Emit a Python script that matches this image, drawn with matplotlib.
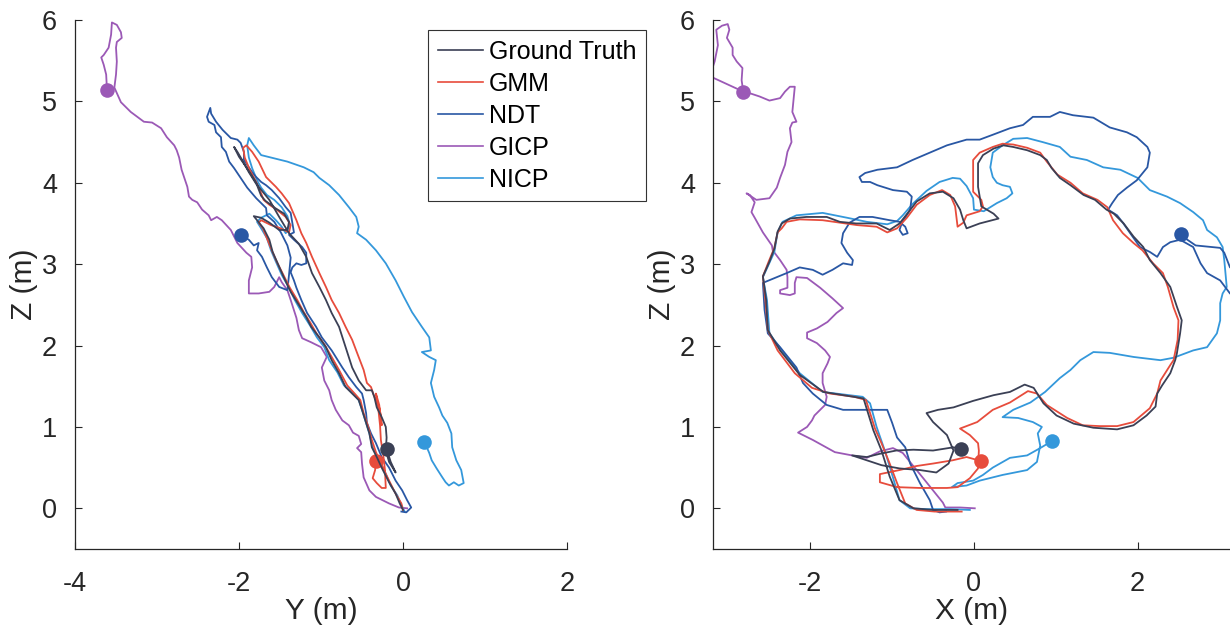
import matplotlib.pyplot as plt
import numpy as np

plt.rcParams['font.family'] = ['Liberation Sans', 'DejaVu Sans']
plt.rcParams['axes.unicode_minus'] = False

labels = ['Ground Truth', 'GMM', 'NDT', 'GICP', 'NICP']
colors = ['#3b4055', '#e74c3c', '#2957a4', '#9b59b6', '#3498db']

# ---- right panel: X vs Z ----
gt_x = [-0.20, -0.25, -0.50, -0.74, -0.91, -1.03, -1.13, -1.23, -1.35, -1.84, -2.13, -2.37, -2.52, -2.54, -2.58,
        -2.50, -2.44, -2.40, -2.35, -2.25, -2.05, -1.80, -1.64, -1.44, -1.19, -1.03, -0.91, -0.80, -0.70, -0.54,
        -0.38, -0.25, -0.17, -0.13, -0.09, 0.07, 0.30, 0.24, 0.09, 0.05, 0.05, 0.11, 0.24, 0.36, 0.48, 0.65, 0.81,
        0.89, 0.95, 1.05, 1.18, 1.34, 1.48, 1.62, 1.71, 1.83, 1.95, 2.07, 2.15, 2.28, 2.40, 2.48, 2.54, 2.52, 2.48,
        2.46, 2.40, 2.30, 2.24, 2.22, 2.11, 1.95, 1.75, 1.46, 1.22, 1.01, 0.85, 0.73, 0.62, 0.44, 0.24, -0.01,
        -0.25, -0.44, -0.58, -0.50, -0.33, -0.25, -0.31, -0.46, -0.66, -0.91, -1.13, -1.31, -1.49, -1.31, -1.15,
        -0.95, -0.74, -0.50, -0.25, -0.16]
gt_xz = [-0.02, -0.02, -0.02, 0.00, 0.10, 0.39, 0.71, 0.96, 1.35, 1.43, 1.64, 1.94, 2.19, 2.56, 2.85, 3.03, 3.19,
         3.40, 3.50, 3.56, 3.58, 3.58, 3.52, 3.50, 3.50, 3.42, 3.50, 3.64, 3.77, 3.87, 3.89, 3.81, 3.67, 3.54, 3.44,
         3.50, 3.56, 3.62, 3.71, 3.95, 4.24, 4.34, 4.42, 4.46, 4.44, 4.40, 4.34, 4.28, 4.18, 4.06, 3.97, 3.85, 3.79,
         3.67, 3.62, 3.50, 3.34, 3.21, 3.05, 2.89, 2.72, 2.48, 2.31, 2.15, 1.90, 1.82, 1.66, 1.51, 1.41, 1.25, 1.14,
         1.02, 0.97, 0.99, 1.04, 1.14, 1.29, 1.48, 1.52, 1.43, 1.39, 1.32, 1.24, 1.21, 1.17, 1.06, 0.90, 0.71, 0.55,
         0.44, 0.47, 0.49, 0.53, 0.59, 0.65, 0.63, 0.67, 0.71, 0.72, 0.71, 0.75, 0.73]

gmm_x = [-0.15, -0.48, -0.70, -0.84, -0.94, -1.03, -1.13, -1.21, -1.32, -1.46, -1.76, -1.98, -2.19, -2.40, -2.52,
         -2.55, -2.58, -2.51, -2.44, -2.40, -2.35, -2.29, -2.13, -1.85, -1.64, -1.43, -1.19, -1.06, -0.94, -0.82,
         -0.70, -0.54, -0.39, -0.29, -0.23, -0.20, -0.13, -0.09, 0.07, 0.11, 0.09, -0.01, -0.01, 0.07, 0.23, 0.35,
         0.48, 0.65, 0.81, 0.89, 1.02, 1.18, 1.33, 1.51, 1.63, 1.70, 1.82, 1.95, 2.06, 2.19, 2.31, 2.37, 2.44, 2.50,
         2.49, 2.44, 2.40, 2.28, 2.24, 2.15, 1.95, 1.75, 1.54, 1.33, 1.14, 0.89, 0.77, 0.66, 0.44, 0.23, 0.04,
         -0.17, -0.05, 0.05, 0.06, 0.05, -0.05, -0.20, -0.33, -0.66, -0.94, -1.15, -1.15, -0.91, -0.70, -0.50,
         -0.26, -0.09, 0.09]
gmm_xz = [-0.04, -0.04, -0.02, 0.06, 0.31, 0.55, 0.80, 0.98, 1.33, 1.37, 1.41, 1.48, 1.66, 1.94, 2.19, 2.56, 2.85,
          3.03, 3.20, 3.39, 3.44, 3.52, 3.55, 3.54, 3.51, 3.48, 3.46, 3.39, 3.44, 3.57, 3.73, 3.85, 3.91, 3.85, 3.71,
          3.46, 3.51, 3.60, 3.65, 3.71, 3.79, 3.89, 4.28, 4.37, 4.44, 4.48, 4.47, 4.43, 4.37, 4.26, 4.10, 4.00, 3.87,
          3.79, 3.70, 3.54, 3.38, 3.26, 3.17, 3.01, 2.89, 2.72, 2.47, 2.31, 2.07, 1.82, 1.76, 1.57, 1.41, 1.23, 1.06,
          1.01, 1.01, 1.02, 1.11, 1.27, 1.41, 1.44, 1.30, 1.21, 1.06, 0.98, 0.90, 0.80, 0.71, 0.49, 0.37, 0.26, 0.25,
          0.25, 0.26, 0.32, 0.42, 0.47, 0.52, 0.55, 0.59, 0.63, 0.58]

ndt_x = [-0.34, -0.42, -0.50, -0.54, -0.66, -0.78, -0.84, -0.94, -1.00, -1.06, -1.31, -1.60, -1.80, -1.97, -2.09,
         -2.17, -2.37, -2.52, -2.56, -2.58, -2.29, -2.13, -1.97, -1.85, -1.73, -1.60, -1.49, -1.48, -1.55, -1.62,
         -1.60, -1.52, -1.40, -1.24, -1.03, -0.91, -0.84, -0.81, -0.87, -0.91, -0.88, -0.78, -0.76, -0.82, -0.99,
         -1.18, -1.27, -1.37, -1.40, -1.33, -1.18, -0.94, -0.75, -0.54, -0.33, -0.09, 0.07, 0.23, 0.44, 0.60, 0.72,
         0.93, 1.05, 1.21, 1.46, 1.66, 1.87, 1.99, 2.12, 2.15, 2.12, 1.99, 1.87, 1.76, 1.69, 1.64, 1.75, 1.82, 1.91,
         2.03, 2.15, 2.24, 2.31, 2.40, 2.52, 2.68, 2.77, 2.85, 3.01, 3.13, 3.26, 3.28, 3.13, 3.06, 3.01, 2.71, 2.58,
         2.53]
ndt_xz = [-0.04, -0.05, -0.02, 0.10, 0.31, 0.55, 0.75, 0.87, 1.05, 1.21, 1.21, 1.21, 1.27, 1.41, 1.54, 1.73, 1.98,
          2.15, 2.44, 2.77, 2.89, 2.96, 2.93, 2.87, 2.93, 3.01, 2.99, 3.05, 3.14, 3.26, 3.38, 3.51, 3.58, 3.58, 3.54,
          3.52, 3.46, 3.38, 3.36, 3.42, 3.51, 3.67, 3.83, 3.89, 3.91, 3.97, 4.01, 4.01, 4.07, 4.12, 4.16, 4.19, 4.28,
          4.37, 4.46, 4.53, 4.53, 4.59, 4.67, 4.71, 4.81, 4.81, 4.87, 4.83, 4.80, 4.68, 4.62, 4.56, 4.44, 4.37, 4.19,
          4.03, 3.94, 3.85, 3.75, 3.67, 3.60, 3.51, 3.38, 3.21, 3.15, 3.09, 3.21, 3.27, 3.30, 3.21, 3.01, 2.89, 2.80,
          2.64, 2.56, 2.93, 2.96, 3.14, 3.20, 3.23, 3.32, 3.37]

gicp_x = [0.01, -0.17, -0.35, -0.38, -0.50, -0.62, -0.75, -0.87, -0.99, -1.15, -1.31, -1.49, -1.70, -1.97, -2.15,
          -2.04, -1.98, -1.95, -1.82, -1.80, -1.85, -1.85, -1.79, -1.76, -1.82, -1.92, -2.04, -2.04, -1.92, -1.79,
          -1.68, -1.60, -1.73, -1.88, -2.04, -2.17, -2.19, -2.19, -2.25, -2.37, -2.37, -2.28, -2.28, -2.29, -2.37,
          -2.46, -2.47, -2.58, -2.68, -2.72, -2.68, -2.74, -2.78, -2.66, -2.50, -2.41, -2.37, -2.31, -2.28, -2.23,
          -2.25, -2.22, -2.17, -2.22, -2.19, -2.25, -2.31, -2.37, -2.50, -2.62, -2.74, -2.82, -2.84, -2.83, -2.90,
          -2.95, -2.95, -3.02, -2.99, -3.01, -3.08, -3.15, -3.13, -3.17, -3.23, -2.82]
gicp_xz = [0.00, 0.01, 0.01, 0.07, 0.22, 0.37, 0.53, 0.68, 0.74, 0.70, 0.62, 0.65, 0.69, 0.84, 0.93, 1.00, 1.08,
           1.14, 1.27, 1.37, 1.54, 1.66, 1.78, 1.86, 1.94, 2.03, 2.09, 2.16, 2.21, 2.29, 2.40, 2.46, 2.58, 2.71, 2.83,
           2.84, 2.77, 2.64, 2.62, 2.64, 2.68, 2.71, 2.84, 2.93, 3.05, 3.17, 3.23, 3.39, 3.57, 3.64, 3.76, 3.85, 3.87,
           3.79, 3.81, 3.94, 4.06, 4.22, 4.38, 4.50, 4.67, 4.74, 4.75, 4.87, 5.18, 5.18, 5.12, 5.04, 5.01, 5.06, 5.10,
           5.12, 5.26, 5.41, 5.49, 5.57, 5.66, 5.78, 5.88, 5.95, 5.93, 5.88, 5.69, 5.49, 5.31, 5.12]

nicp_x = [-0.05, -0.29, -0.58, -0.78, -0.91, -0.99, -1.09, -1.19, -1.27, -1.36, -1.85, -2.13, -2.35, -2.50, -2.53,
          -2.58, -2.53, -2.44, -2.40, -2.34, -2.17, -1.85, -1.55, -1.31, -1.06, -0.94, -0.87, -0.75, -0.58, -0.42,
          -0.26, -0.17, -0.09, -0.01, 0.00, 0.12, 0.28, 0.40, 0.47, 0.44, 0.35, 0.28, 0.23, 0.20, 0.23, 0.35, 0.48,
          0.65, 0.84, 1.05, 1.18, 1.38, 1.58, 1.79, 2.00, 2.15, 2.36, 2.52, 2.68, 2.80, 2.85, 2.97, 3.04, 3.06, 3.09,
          3.04, 3.01, 3.01, 2.97, 2.85, 2.68, 2.44, 2.28, 2.03, 1.95, 1.66, 1.46, 1.30, 1.18, 1.05, 0.87, 0.69, 0.48,
          0.35, 0.54, 0.72, 0.83, 0.78, 0.81, 0.77, 0.65, 0.35, 0.07, -0.09, -0.27, -0.20, -0.01, 0.11, 0.23, 0.44,
          0.65, 0.81, 0.96]
nicp_xz = [-0.02, -0.01, -0.01, 0.00, 0.10, 0.38, 0.71, 1.00, 1.29, 1.37, 1.43, 1.66, 1.94, 2.15, 2.56, 2.84, 2.95,
           3.15, 3.39, 3.52, 3.60, 3.63, 3.57, 3.52, 3.49, 3.53, 3.60, 3.74, 3.90, 4.01, 4.06, 4.05, 3.96, 3.81, 3.67,
           3.65, 3.75, 3.81, 3.87, 3.95, 3.97, 4.00, 4.07, 4.19, 4.37, 4.46, 4.54, 4.55, 4.50, 4.44, 4.32, 4.28, 4.19,
           4.16, 4.06, 3.91, 3.83, 3.75, 3.64, 3.54, 3.42, 3.33, 3.21, 3.05, 2.72, 2.64, 2.52, 2.31, 2.15, 1.98, 1.94,
           1.85, 1.82, 1.85, 1.86, 1.91, 1.92, 1.82, 1.70, 1.60, 1.43, 1.30, 1.21, 1.12, 1.11, 1.06, 1.00, 0.92, 0.77,
           0.57, 0.47, 0.41, 0.34, 0.28, 0.26, 0.31, 0.34, 0.41, 0.50, 0.62, 0.65, 0.74, 0.83]

# ---- left panel: Y vs Z ----
gt_y = [0.00, -0.04, -0.09, -0.17, -0.26, -0.32, -0.38, -0.41, -0.45, -0.50, -0.54, -0.62, -0.70, -0.78, -0.87,
        -0.94, -1.02, -1.12, -1.18, -1.27, -1.37, -1.45, -1.52, -1.59, -1.63, -1.70, -1.78, -1.82, -1.73, -1.63,
        -1.51, -1.41, -1.39, -1.45, -1.56, -1.68, -1.73, -1.78, -1.88, -1.95, -2.02, -2.06, -2.00, -1.91, -1.85,
        -1.76, -1.63, -1.51, -1.39, -1.27, -1.18, -1.11, -1.02, -0.94, -0.87, -0.78, -0.70, -0.62, -0.54, -0.45,
        -0.38, -0.35, -0.32, -0.26, -0.21, -0.20, -0.21, -0.17, -0.09, -0.15, -0.20]
gt_yz = [-0.02, 0.06, 0.18, 0.32, 0.50, 0.63, 0.75, 0.92, 1.05, 1.21, 1.33, 1.41, 1.49, 1.66, 1.82, 1.98, 2.10, 2.23,
         2.35, 2.50, 2.66, 2.83, 2.99, 3.15, 3.30, 3.44, 3.54, 3.59, 3.57, 3.51, 3.42, 3.42, 3.52, 3.62, 3.69, 3.78,
         3.84, 3.97, 4.13, 4.26, 4.38, 4.44, 4.32, 4.19, 4.10, 3.95, 3.79, 3.58, 3.38, 3.25, 3.09, 2.89, 2.72, 2.56,
         2.40, 2.23, 1.98, 1.73, 1.57, 1.45, 1.45, 1.37, 1.24, 1.12, 1.00, 0.87, 0.71, 0.57, 0.44, 0.57, 0.73]

gmm_y = [0.00, -0.02, -0.09, -0.17, -0.26, -0.33, -0.38, -0.43, -0.48, -0.52, -0.59, -0.68, -0.78, -0.87, -0.95,
         -1.05, -1.13, -1.21, -1.29, -1.38, -1.46, -1.54, -1.60, -1.66, -1.71, -1.76, -1.73, -1.61, -1.49, -1.39,
         -1.37, -1.43, -1.54, -1.63, -1.70, -1.73, -1.79, -1.87, -1.93, -1.95, -1.91, -1.84, -1.76, -1.67, -1.55,
         -1.48, -1.39, -1.30, -1.24, -1.18, -1.11, -1.02, -0.94, -0.87, -0.78, -0.70, -0.62, -0.56, -0.48, -0.44,
         -0.39, -0.35, -0.29, -0.27, -0.26, -0.29, -0.33, -0.30, -0.28, -0.27, -0.24, -0.22, -0.21, -0.26, -0.32,
         -0.37, -0.34, -0.33]
gmm_yz = [-0.02, 0.06, 0.18, 0.34, 0.53, 0.69, 0.84, 1.02, 1.17, 1.33, 1.41, 1.51, 1.70, 1.86, 2.00, 2.14, 2.28,
          2.41, 2.56, 2.71, 2.87, 3.03, 3.17, 3.32, 3.44, 3.51, 3.54, 3.48, 3.44, 3.39, 3.48, 3.58, 3.67, 3.73, 3.79,
          3.87, 4.01, 4.16, 4.31, 4.43, 4.46, 4.38, 4.26, 4.07, 3.95, 3.87, 3.75, 3.54, 3.38, 3.26, 3.09, 2.89, 2.72,
          2.56, 2.40, 2.23, 2.07, 1.91, 1.70, 1.54, 1.49, 1.37, 1.24, 1.14, 1.02, 1.27, 1.41, 1.21, 1.02, 0.84, 0.65,
          0.47, 0.25, 0.25, 0.31, 0.37, 0.47, 0.58]

ndt_y = [-0.02, 0.04, 0.10, 0.05, -0.01, -0.09, -0.17, -0.26, -0.33, -0.39, -0.44, -0.45, -0.48, -0.50, -0.57,
         -0.66, -0.74, -0.87, -0.99, -1.06, -1.17, -1.24, -1.30, -1.33, -1.37, -1.35, -1.30, -1.24, -1.18, -1.18,
         -1.23, -1.33, -1.39, -1.33, -1.35, -1.37, -1.43, -1.51, -1.60, -1.67, -1.73, -1.79, -1.84, -1.88, -1.94,
         -1.94, -1.98, -2.02, -2.10, -2.20, -2.28, -2.34, -2.35, -2.39, -2.37, -2.30, -2.28, -2.22, -2.21, -2.16,
         -2.12, -2.06, -1.98, -1.90, -1.79, -1.73, -1.67, -1.66, -1.57, -1.49, -1.41, -1.37, -1.39, -1.41, -1.51,
         -1.60, -1.66, -1.72, -1.78, -1.76, -1.82, -1.88, -1.98]
ndt_yz = [-0.04, -0.05, 0.01, 0.10, 0.22, 0.34, 0.50, 0.63, 0.80, 0.92, 1.05, 1.17, 1.33, 1.41, 1.49, 1.61, 1.73,
          1.94, 2.10, 2.23, 2.40, 2.56, 2.71, 2.80, 2.90, 2.96, 3.01, 2.99, 3.01, 3.14, 3.21, 3.30, 3.36, 3.39, 3.51,
          3.63, 3.70, 3.81, 3.91, 3.97, 4.01, 4.07, 4.13, 4.19, 4.28, 4.38, 4.49, 4.53, 4.55, 4.65, 4.75, 4.85, 4.92,
          4.81, 4.75, 4.71, 4.62, 4.56, 4.44, 4.38, 4.26, 4.18, 4.06, 3.94, 3.81, 3.75, 3.69, 3.60, 3.52, 3.39, 3.23,
          3.08, 2.87, 2.68, 2.72, 2.84, 2.96, 3.09, 3.17, 3.26, 3.23, 3.30, 3.36]

gicp_y = [0.05, -0.05, -0.17, -0.33, -0.41, -0.48, -0.50, -0.51, -0.56, -0.51, -0.54, -0.61, -0.66, -0.74, -0.82,
          -0.87, -0.90, -0.96, -0.99, -0.93, -1.00, -1.12, -1.23, -1.27, -1.30, -1.37, -1.41, -1.48, -1.51, -1.57,
          -1.63, -1.76, -1.88, -1.88, -1.84, -1.85, -1.91, -2.02, -2.10, -2.21, -2.27, -2.34, -2.37, -2.45, -2.51,
          -2.57, -2.61, -2.63, -2.70, -2.73, -2.76, -2.79, -2.88, -2.95, -3.06, -3.16, -3.32, -3.44, -3.52, -3.50,
          -3.49, -3.50, -3.49, -3.43, -3.44, -3.49, -3.55, -3.56, -3.59, -3.65, -3.68, -3.65, -3.62, -3.61]
gicp_yz = [0.00, 0.01, 0.06, 0.14, 0.22, 0.38, 0.55, 0.69, 0.74, 0.79, 0.89, 0.93, 1.02, 1.08, 1.21, 1.33, 1.45,
           1.57, 1.73, 1.86, 1.98, 2.04, 2.09, 2.19, 2.34, 2.56, 2.68, 2.78, 2.84, 2.72, 2.66, 2.64, 2.64, 2.80, 2.96,
           3.09, 3.14, 3.26, 3.42, 3.54, 3.58, 3.54, 3.60, 3.67, 3.76, 3.79, 3.83, 3.95, 4.16, 4.31, 4.40, 4.46, 4.56,
           4.67, 4.74, 4.75, 4.87, 4.99, 5.17, 5.33, 5.49, 5.66, 5.73, 5.78, 5.85, 5.94, 5.97, 5.82, 5.66, 5.57, 5.54,
           5.45, 5.33, 5.14]

nicp_y = [0.02, -0.02, -0.07, -0.15, -0.23, -0.29, -0.37, -0.41, -0.46, -0.50, -0.54, -0.62, -0.72, -0.80, -0.90,
          -0.96, -1.05, -1.13, -1.23, -1.32, -1.39, -1.48, -1.55, -1.61, -1.66, -1.73, -1.78, -1.73, -1.63, -1.55,
          -1.48, -1.43, -1.38, -1.41, -1.48, -1.57, -1.66, -1.73, -1.78, -1.84, -1.88, -1.90, -1.88, -1.82, -1.73,
          -1.61, -1.41, -1.21, -1.09, -1.02, -0.90, -0.78, -0.66, -0.57, -0.54, -0.56, -0.45, -0.33, -0.21, -0.09,
          0.01, 0.11, 0.23, 0.32, 0.34, 0.23, 0.32, 0.40, 0.38, 0.34, 0.38, 0.44, 0.48, 0.54, 0.59, 0.60, 0.65, 0.71,
          0.74, 0.68, 0.62, 0.56, 0.52, 0.48, 0.41, 0.35, 0.32, 0.26]
nicp_yz = [-0.04, 0.04, 0.16, 0.28, 0.47, 0.59, 0.75, 0.92, 1.08, 1.21, 1.33, 1.43, 1.51, 1.67, 1.82, 1.98, 2.10,
           2.24, 2.40, 2.56, 2.71, 2.87, 3.03, 3.17, 3.32, 3.44, 3.52, 3.57, 3.62, 3.54, 3.46, 3.38, 3.48, 3.59, 3.70,
           3.79, 3.85, 3.94, 4.03, 4.18, 4.31, 4.46, 4.55, 4.46, 4.34, 4.31, 4.26, 4.19, 4.13, 4.06, 3.97, 3.85, 3.70,
           3.58, 3.46, 3.38, 3.30, 3.17, 3.01, 2.80, 2.60, 2.41, 2.23, 2.10, 1.94, 1.92, 1.86, 1.82, 1.70, 1.54, 1.37,
           1.24, 1.14, 1.05, 0.92, 0.75, 0.59, 0.47, 0.31, 0.28, 0.32, 0.28, 0.32, 0.38, 0.49, 0.59, 0.68, 0.82]

left_series = [(gt_y, gt_yz), (gmm_y, gmm_yz), (ndt_y, ndt_yz), (gicp_y, gicp_yz), (nicp_y, nicp_yz)]
right_series = [(gt_x, gt_xz), (gmm_x, gmm_xz), (ndt_x, ndt_xz), (gicp_x, gicp_xz), (nicp_x, nicp_xz)]
# drawing order: later ones on top
order = [3, 4, 2, 1, 0]

fig = plt.figure(figsize=(12.3, 6.34), dpi=100)
ax1 = fig.add_axes([0.06098, 0.13407, 0.4, 0.83438])
ax2 = fig.add_axes([0.57967, 0.13407, 0.42033, 0.83438])

handles = [None] * 5
for ax, series in [(ax1, left_series), (ax2, right_series)]:
    for i in order:
        u, v = series[i]
        u = np.array(u); v = np.array(v)
        h, = ax.plot(u, v, color=colors[i], lw=1.3, label=labels[i], solid_joinstyle='round')
        ax.plot(u[-1], v[-1], 'o', color=colors[i], ms=10.5, mec='none')
        handles[i] = h

for ax in (ax1, ax2):
    for s in ['top', 'right']:
        ax.spines[s].set_visible(False)
    for s in ['left', 'bottom']:
        ax.spines[s].set_color('#262626')
        ax.spines[s].set_linewidth(0.9)
    ax.tick_params(direction='in', length=5, width=0.8, colors='#262626', labelsize=19.5)
    ax.tick_params(axis='x', pad=16)
    ax.tick_params(axis='y', pad=13)
    ax.set_ylim(-0.5, 6)
    ax.set_yticks(range(0, 7))
    ax.set_ylabel('Z (m)', fontsize=21.5, color='#262626', labelpad=3)

ax1.set_xlim(-4, 2)
ax1.set_xticks([-4, -2, 0, 2])
ax1.set_xlabel('Y (m)', fontsize=21.5, color='#262626', labelpad=0)
ax2.set_xlim(-3.19, 3.13)
ax2.set_xticks([-2, 0, 2])
ax2.set_xlabel('X (m)', fontsize=21.5, color='#262626', labelpad=0)

leg = ax1.legend(handles=handles, labels=labels, loc='upper left', bbox_to_anchor=(0.7175, 0.981),
                 fontsize=18, frameon=True, fancybox=False, framealpha=1, edgecolor='#333333',
                 handlelength=1.8, handletextpad=0.25, labelspacing=0.32, borderpad=0.38, borderaxespad=0)
leg.get_frame().set_linewidth(0.8)
for line in leg.get_lines():
    line.set_linewidth(1.2)

fig.savefig('out.png', dpi=100)
